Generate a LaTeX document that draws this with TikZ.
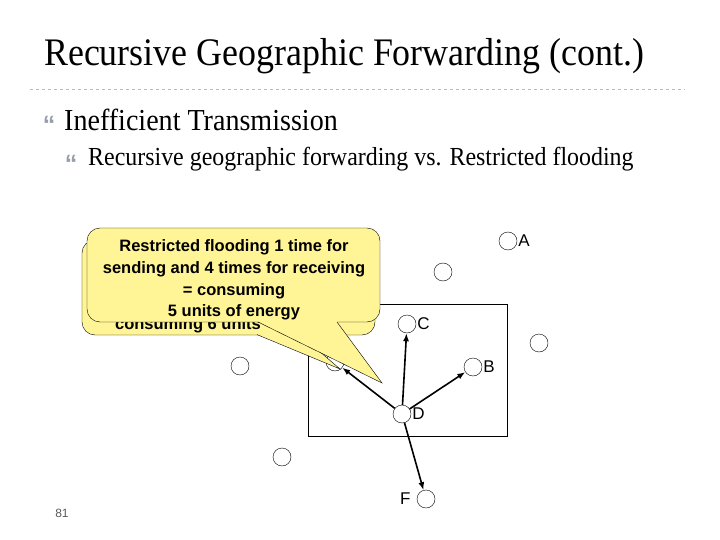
\documentclass[tikz,border=0pt]{standalone}
\usepackage{fontspec}
\setmainfont{Liberation Serif}
\newfontfamily\arial{Liberation Sans}
\usetikzlibrary{positioning,arrows.meta}

\definecolor{noteyellow}{RGB}{255,245,150}
\definecolor{bulletgray}{RGB}{150,158,168}

\begin{document}
\begin{tikzpicture}[x=1pt,y=-1pt, every node/.style={font=\arial\fontsize{17}{19}\selectfont}, node distance=1pt,
  sensor/.style={draw,circle,minimum size=18pt,inner sep=0pt,fill=white},
  lbl/.style={inner sep=0pt},
  hop/.style={-{Latex[length=8pt,width=6pt]},line width=1.6pt},
  note/.style={draw,fill=noteyellow,rounded corners=13pt,inner sep=0pt},
  notetext/.style={align=center,inner sep=0pt,font=\arial\bfseries\fontsize{16.5}{21.7}\selectfont},
  bullet/.style={text=bulletgray,inner sep=0pt,font=\arial\bfseries\fontsize{25}{25}\selectfont}]
  \useasboundingbox (0,0) rectangle (720,540);

  % slide heading
  \node[anchor=base west,inner sep=0pt,font=\fontsize{39}{42}\selectfont] (title) at (44,66)
    {\scalebox{0.92}[1]{Recursive Geographic Forwarding (cont.)}};
  \draw[bulletgray!70,dashed,line width=0.6pt] (30,89) -- (685,89);
  \node[bullet] (b1) at (49,125) {\textquotedblleft};
  \node[anchor=base west,inner sep=0pt,font=\fontsize{30.5}{32}\selectfont] (l1) at (64,131)
    {\scalebox{0.92}[1]{Inefficient Transmission}};
  \node[bullet] (b2) at (71,164) {\textquotedblleft};
  \node[anchor=base west,inner sep=0pt,font=\fontsize{26}{28}\selectfont] (l2) at (88,166)
    {\scalebox{0.92}[1]{Recursive geographic forwarding vs. Restricted flooding}};

  % region
  \draw[line width=0.8pt] (308,304) rectangle (507,436);

  % sensors
  \node[sensor] (a) at (508,241) {};
  \node[sensor] (c) at (407,324) {};
  \node[sensor] (b) at (473,367) {};
  \node[sensor] (d) at (402,414) {};
  \node[sensor] (f) at (426,499) {};
  \node[sensor] (n1) at (443,272) {};
  \node[sensor] (n2) at (539,343) {};
  \node[sensor] (n3) at (240,366) {};
  \node[sensor] (n4) at (282,457) {};
  \node[sensor] (n5) at (335,362) {};
  \node[lbl, right=1pt of a] (la) {A};
  \node[lbl, right=1pt of b] (lb) {B};
  \node[lbl, right=1pt of c] (lc) {C};
  \node[lbl, right=1pt of d] (ld) {D};
  \node[lbl, left=6pt of f] (lf) {F};

  % callouts
  \node[note,minimum width=293pt,minimum height=95pt] (old) at (228.5,287.5) {};
  \coordinate (oldtip) at (340,369);
  \fill[noteyellow] (257,334) -- (oldtip) -- (300,334) -- cycle;
  \draw (257,334.6) -- (oldtip) -- (300,334.6);
  \node[notetext,anchor=base] (oldtext) at (188,329) {consuming 6 units};
  \node[note,minimum width=293pt,minimum height=94pt] (new) at (233.5,275) {};
  \node[notetext] (newtext) at (234,280)
    {Restricted flooding 1 time for\\sending and 4 times for receiving\\= consuming\\5 units of energy};
  \coordinate (newtip) at (382,383);
  \fill[noteyellow] (258,321) -- (newtip) -- (337,321) -- cycle;
  \draw (258,322) -- (newtip) -- (337,322);

  % hops from D
  \draw[hop] (d) -- (c);
  \draw[hop] (d) -- (b);
  \draw[hop] (d) -- (n5);
  \draw[hop] (d) -- (f);

  \node[text=black!65,font=\arial\fontsize{12}{12}\selectfont] (page) at (62,513) {81};
\end{tikzpicture}
\end{document}
